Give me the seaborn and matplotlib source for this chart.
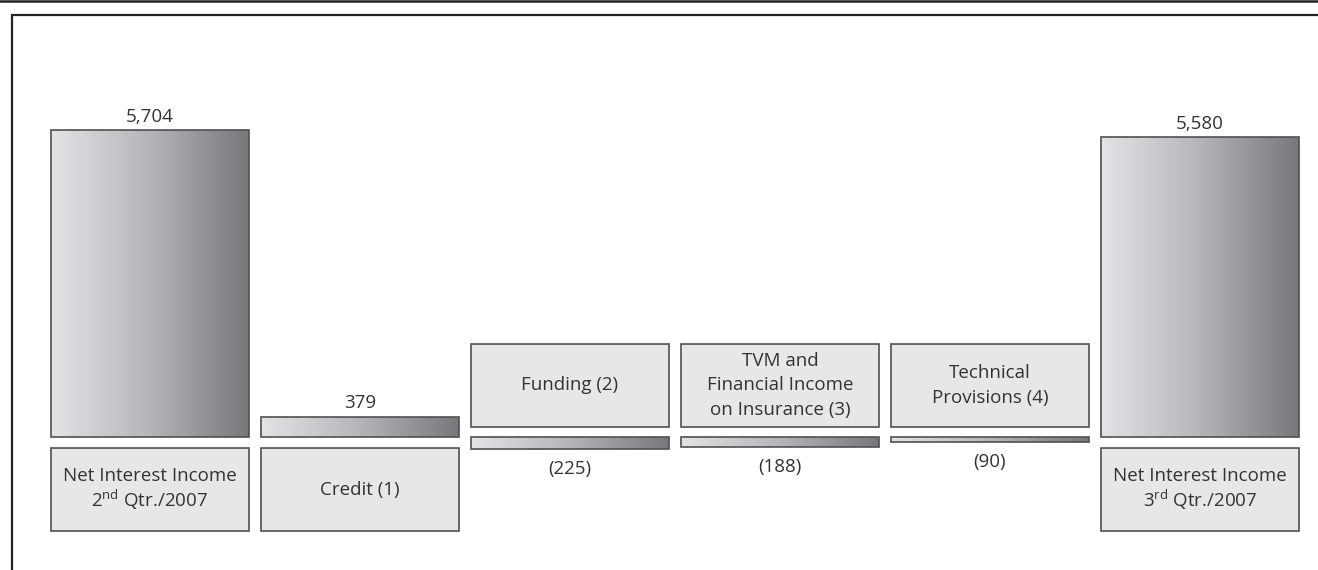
import numpy as np
import matplotlib
matplotlib.use("Agg")
import matplotlib.pyplot as plt
import seaborn as sns
from matplotlib.colors import LinearSegmentedColormap
from matplotlib.patches import Rectangle
from matplotlib.lines import Line2D

# ---------------- data ----------------
categories = ["Net Interest Income 2nd Qtr./2007", "Credit (1)", "Funding (2)",
              "TVM and Financial Income on Insurance (3)", "Technical Provisions (4)",
              "Net Interest Income 3rd Qtr./2007"]
box_labels = ["Net Interest Income\n2$^{\\mathrm{nd}}$ Qtr./2007",
              "Credit (1)",
              "Funding (2)",
              "TVM and\nFinancial Income\non Insurance (3)",
              "Technical\nProvisions (4)",
              "Net Interest Income\n3$^{\\mathrm{rd}}$ Qtr./2007"]
values = [5704, 379, -225, -188, -90, 5580]
value_labels = ["5,704", "379", "(225)", "(188)", "(90)", "5,580"]

# ---------------- style ----------------
sns.set_theme(style="white")
plt.rcParams["font.family"] = ["Open Sans", "DejaVu Sans"]
plt.rcParams["mathtext.fontset"] = "custom"
plt.rcParams["mathtext.rm"] = "Open Sans"
TEXT = "#333333"
EDGE = "#505050"
BOXFILL = "#e6e7e8"
FS = 13.5
grad = LinearSegmentedColormap.from_list("g", ["#e3e4e6", "#b4b5b8", "#77787b"])

W, H = 1318, 570
fig = plt.figure(figsize=(W / 100, H / 100), dpi=100)
ax = fig.add_axes([0, 0, 1, 1])

S = 18.6            # value units per pixel
base_px = 437       # baseline pixel row
x0_px, step_px = 150, 210

sns.barplot(x=categories, y=values, order=categories, width=198 / 210, ax=ax,
            color="#999999", saturation=1, errorbar=None)

ax.set_xlim(-x0_px / step_px, (W - x0_px) / step_px)
ax.set_ylim(-(H - base_px) * S, base_px * S)
ax.axis("off")

for i, p in enumerate(ax.patches):
    bx0, by0 = p.get_x(), p.get_y()
    bw, bh = p.get_width(), p.get_height()
    ylo, yhi = min(by0, by0 + bh), max(by0, by0 + bh)
    img = ax.imshow(np.linspace(0, 1, 256).reshape(1, -1), cmap=grad, aspect="auto",
                    extent=(bx0, bx0 + bw, ylo, yhi), zorder=2, interpolation="bilinear")
    img.set_clip_path(p)
    p.set_facecolor("none")
    p.set_edgecolor(EDGE)
    p.set_linewidth(1.2)
    p.set_zorder(3)

    xc = bx0 + bw / 2
    v = values[i]
    if v >= 0:
        ax.annotate(value_labels[i], (xc, yhi), xytext=(0, 3), textcoords="offset points",
                    ha="center", va="bottom", fontsize=FS, color=TEXT)
        b_top, b_bot = -11 * S, -94 * S
    else:
        ax.annotate(value_labels[i], (xc, ylo), xytext=(0, -8), textcoords="offset points",
                    ha="center", va="top", fontsize=FS, color=TEXT)
        b_top, b_bot = 93 * S, 10 * S
    ax.add_patch(Rectangle((bx0, b_bot), bw, b_top - b_bot, facecolor=BOXFILL,
                           edgecolor=EDGE, linewidth=1.2, zorder=3))
    ls = 1.12 if "$" in box_labels[i] else 1.5
    ax.text(xc, (b_top + b_bot) / 2, box_labels[i], ha="center", va="center",
            fontsize=FS, color=TEXT, linespacing=ls, zorder=4)

# frame lines
fig.add_artist(Line2D([0, 1], [1 - 0.5 / H, 1 - 0.5 / H], color="#222222", lw=1.8,
                      transform=fig.transFigure))
fig.add_artist(Line2D([12 / W, 1], [1 - 15 / H, 1 - 15 / H], color="#222222", lw=1.6,
                      transform=fig.transFigure))
fig.add_artist(Line2D([12 / W, 12 / W], [0, 1 - 15 / H], color="#222222", lw=1.6,
                      transform=fig.transFigure))

fig.savefig("out.png", dpi=100)
